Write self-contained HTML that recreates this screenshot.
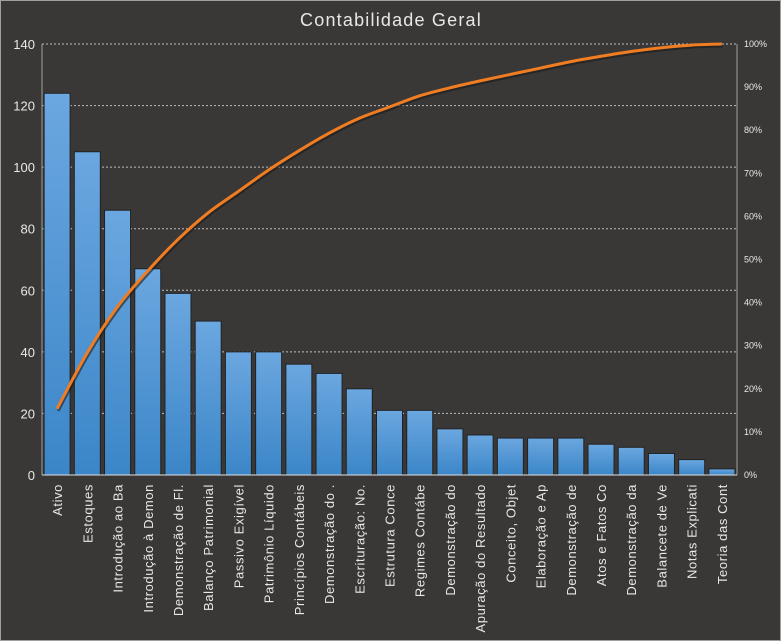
<!DOCTYPE html>
<html><head><meta charset="utf-8"><style>
html,body{margin:0;padding:0;background:#3a3837;}
svg{display:block;font-family:"Liberation Sans","DejaVu Sans",sans-serif;}
</style></head><body>
<svg id="c" width="781" height="641" xmlns="http://www.w3.org/2000/svg">
<defs><linearGradient id="g" x1="0" x2="0" y1="0" y2="1"><stop offset="0" stop-color="#6ba7e0"/><stop offset="1" stop-color="#3b86c8"/></linearGradient></defs>
<rect x="0.5" y="0.5" width="780" height="640" fill="#3a3837" stroke="#a0a0a0"/>
<text x="391" y="26" text-anchor="middle" fill="#e8e8e8" font-size="18" letter-spacing="1.2">Contabilidade Geral</text>
</svg>
<script>
const s=document.getElementById('c'),NS='http://www.w3.org/2000/svg';
function el(t,a,txt){const e=document.createElementNS(NS,t);for(const k in a)e.setAttribute(k,a[k]);if(txt!=null)e.textContent=txt;s.appendChild(e);return e;}
const L=42,R=737,T=44,B=475,h=B-T;
const vals=[124,105,86,67,59,50,40,40,36,33,28,21,21,15,13,12,12,12,10,9,7,5,2];
const labs=["Ativo","Estoques","Introdução  ao Ba","Introdução  à Demon","Demonstração de Fl.","Balanço Patrimonial","Passivo Exigível","Patrimônio Líquido","Princípios Contábeis","Demonstração do  .","Escrituração: No.","Estrutura Conce","Regimes Contábe","Demonstração do","Apuração do Resultado","Conceito, Objet","Elaboração e Ap","Demonstração de","Atos e Fatos Co","Demonstração da","Balancete de Ve","Notas Explicati","Teoria das Cont"];
for(let i=0;i<=7;i++){const y=B-i*20/140*h;
 if(i>0)el('line',{x1:L,x2:R,y1:y,y2:y,stroke:'#bdbdbd','stroke-width':1,'stroke-dasharray':'2,2'});
 el('text',{x:35,y:y+5,'text-anchor':'end',fill:'#e8e8e8','font-size':13},String(i*20));}
for(let i=0;i<=10;i++){const y=B-i/10*h;el('text',{x:744,y:y+3,fill:'#e8e8e8','font-size':9},i*10+'%');}
const pw=(R-L)/23;let sum=vals.reduce((a,b)=>a+b,0),c=0,pts=[];
vals.forEach((v,i)=>{const cx=L+pw*(i+0.5),bh=v/140*h;
 el('rect',{x:cx-13,y:B-bh,width:26,height:bh,fill:'url(#g)',stroke:'#222','stroke-width':1});
 c+=v;pts.push([cx,B-c/sum*h]);
 el('text',{transform:`translate(${cx+5},484) rotate(-90)`,'text-anchor':'end',fill:'#e8e8e8','font-size':13,'letter-spacing':0.6},labs[i]);});
el('line',{x1:L,x2:L,y1:T,y2:B,stroke:'#a0a0a0'});
el('line',{x1:R,x2:R,y1:T,y2:B,stroke:'#a0a0a0'});
el('line',{x1:L,x2:R,y1:B,y2:B,stroke:'#e0e0e0'});
let d='M'+pts[0];for(let i=1;i<pts.length;i++){const p0=pts[i-2]||pts[i-1],p1=pts[i-1],p2=pts[i],p3=pts[i+1]||p2;
 d+=` C${p1[0]+(p2[0]-p0[0])/6},${p1[1]+(p2[1]-p0[1])/6} ${p2[0]-(p3[0]-p1[0])/6},${p2[1]-(p3[1]-p1[1])/6} ${p2[0]},${p2[1]}`;}
el('path',{d,fill:'none',stroke:'#1a1a1a','stroke-width':3,transform:'translate(1,2)',opacity:0.6});
el('path',{d,fill:'none',stroke:'#f07d22','stroke-width':3});
</script>
</body></html>
